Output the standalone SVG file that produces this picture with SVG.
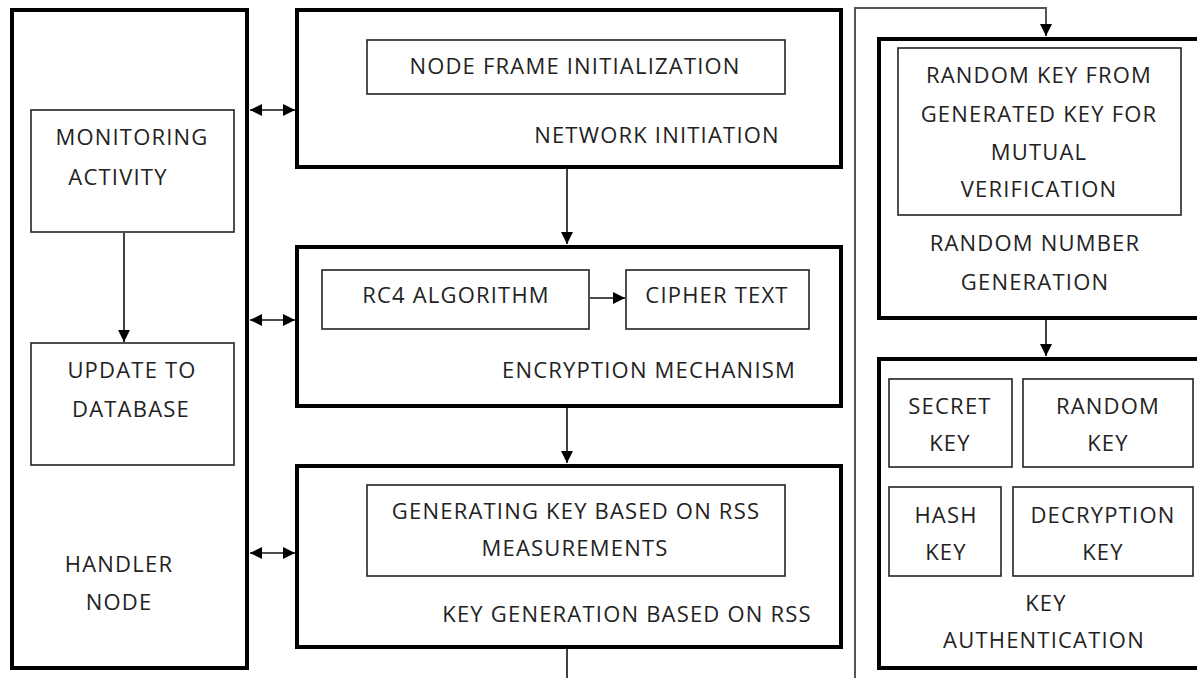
<svg xmlns="http://www.w3.org/2000/svg" width="1197" height="678" viewBox="0 0 1197 678">
<defs>
<style>
.thick{fill:none;stroke:#000;stroke-width:4}
.thin{fill:none;stroke:#222;stroke-width:1.6}
.con{fill:none;stroke:#111;stroke-width:1.6}
.gray{fill:none;stroke:#555;stroke-width:2}
text{font-family:"Open Sans",Lato,"Liberation Sans",sans-serif;font-size:22px;letter-spacing:1.2px;fill:#222;text-anchor:middle}
</style>
<marker id="ah" viewBox="0 0 10 10" refX="10" refY="5" markerWidth="12" markerHeight="12" markerUnits="userSpaceOnUse" orient="auto-start-reverse">
<path d="M0,0 L10,5 L0,10 Z" fill="#000"/>
</marker>
</defs>
<rect width="1197" height="678" fill="#fff"/>
<g id="connectors">
<line class="con" x1="250" y1="110" x2="295" y2="110" marker-start="url(#ah)" marker-end="url(#ah)"/>
<line class="con" x1="250" y1="320" x2="295" y2="320" marker-start="url(#ah)" marker-end="url(#ah)"/>
<line class="con" x1="250" y1="553" x2="295" y2="553" marker-start="url(#ah)" marker-end="url(#ah)"/>
<line class="con" x1="567" y1="169" x2="567" y2="244" marker-end="url(#ah)"/>
<line class="con" x1="567" y1="408" x2="567" y2="463" marker-end="url(#ah)"/>
<line class="con" x1="567" y1="649" x2="567" y2="678"/>
<line class="con" x1="590" y1="298" x2="625" y2="298" marker-end="url(#ah)"/>
<line class="con" x1="124" y1="233" x2="124" y2="342" marker-end="url(#ah)"/>
<line class="con" x1="1046" y1="320" x2="1046" y2="356" marker-end="url(#ah)"/>
<polyline class="gray" points="855,678 855,8 1046,8 1046,30"/>
<line class="con" x1="1046" y1="26" x2="1046" y2="36" marker-end="url(#ah)"/>
</g>
<g id="handler">
<rect class="thick" x="12" y="10" width="235" height="658"/>
<text x="119" y="572">HANDLER</text>
<text x="119" y="610">NODE</text>
</g>
<g id="monitoring">
<rect class="thin" x="31" y="110" width="203" height="122"/>
<text x="132" y="145">MONITORING</text>
<text x="118" y="185">ACTIVITY</text>
</g>
<g id="update">
<rect class="thin" x="31" y="343" width="203" height="122"/>
<text x="132" y="378">UPDATE TO</text>
<text x="131" y="417">DATABASE</text>
</g>
<g id="network">
<rect class="thick" x="297" y="10" width="544" height="157"/>
<text x="657" y="143">NETWORK INITIATION</text>
</g>
<g id="nodeframe">
<rect class="thin" x="367" y="40" width="418" height="54"/>
<text x="575" y="74">NODE FRAME INITIALIZATION</text>
</g>
<g id="encryption">
<rect class="thick" x="297" y="247" width="544" height="159"/>
<text x="649" y="378">ENCRYPTION MECHANISM</text>
</g>
<g id="rc4">
<rect class="thin" x="322" y="270" width="267" height="59"/>
<text x="456" y="303">RC4 ALGORITHM</text>
</g>
<g id="cipher">
<rect class="thin" x="626" y="270" width="183" height="59"/>
<text x="717" y="303">CIPHER TEXT</text>
</g>
<g id="keygen">
<rect class="thick" x="297" y="466" width="544" height="181"/>
<text x="627" y="622">KEY GENERATION BASED ON RSS</text>
</g>
<g id="genkey">
<rect class="thin" x="367" y="485" width="418" height="91"/>
<text x="576" y="519">GENERATING KEY BASED ON RSS</text>
<text x="575" y="556">MEASUREMENTS</text>
</g>
<g id="randomnum">
<rect class="thick" x="879" y="39" width="330" height="279"/>
<text x="1035" y="251">RANDOM NUMBER</text>
<text x="1035" y="290">GENERATION</text>
</g>
<g id="randomkey">
<rect class="thin" x="898" y="48" width="283" height="167"/>
<text x="1039" y="83">RANDOM KEY FROM</text>
<text x="1039" y="122">GENERATED KEY FOR</text>
<text x="1039" y="160">MUTUAL</text>
<text x="1039" y="197">VERIFICATION</text>
</g>
<g id="keyauth">
<rect class="thick" x="879" y="359" width="330" height="309"/>
<text x="1046" y="611">KEY</text>
<text x="1044" y="648">AUTHENTICATION</text>
</g>
<g id="secret">
<rect class="thin" x="889" y="379" width="123" height="88"/>
<text x="950" y="414">SECRET</text>
<text x="950" y="451">KEY</text>
</g>
<g id="random">
<rect class="thin" x="1023" y="379" width="170" height="88"/>
<text x="1108" y="414">RANDOM</text>
<text x="1108" y="451">KEY</text>
</g>
<g id="hash">
<rect class="thin" x="889" y="487" width="112" height="89"/>
<text x="946" y="523">HASH</text>
<text x="946" y="560">KEY</text>
</g>
<g id="decryption">
<rect class="thin" x="1013" y="487" width="180" height="89"/>
<text x="1103" y="523">DECRYPTION</text>
<text x="1103" y="560">KEY</text>
</g>
</svg>
